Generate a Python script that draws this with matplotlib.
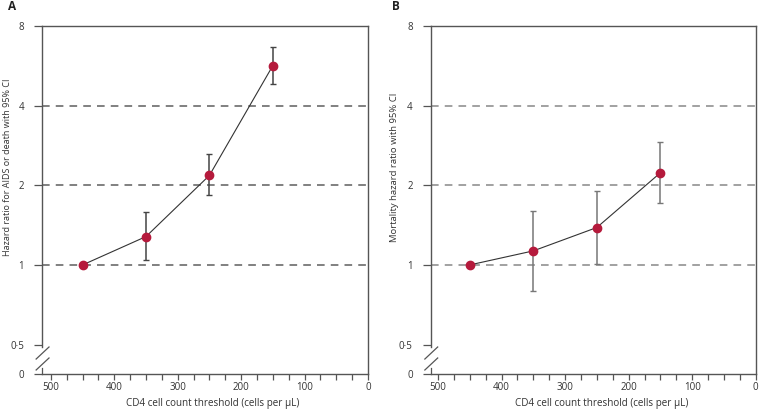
import matplotlib
matplotlib.use("Agg")
import matplotlib.pyplot as plt
from matplotlib.ticker import FixedLocator, FixedFormatter, MultipleLocator

plt.rcParams['font.family'] = ['Open Sans', 'DejaVu Sans']

# Data
thresholds = [450, 350, 250, 150]
hr_a = [1.0, 1.28, 2.18, 5.67]
hr_a_lo = [1.0, 1.045, 1.83, 4.85]
hr_a_hi = [1.0, 1.58, 2.62, 6.65]

hr_b = [1.0, 1.13, 1.385, 2.23]
hr_b_lo = [1.0, 0.80, 1.01, 1.71]
hr_b_hi = [1.0, 1.60, 1.91, 2.91]

ytick_vals = [0.5, 1, 2, 4, 8]
ytick_labels = ["0·5", "1", "2", "4", "8"]
xtick_vals = [500, 400, 300, 200, 100, 0]
ylabels = ["Hazard ratio for AIDS or death with 95% CI",
           "Mortality hazard ratio with 95% CI"]
panel_letters = ["A", "B"]
xlabel = "CD4 cell count threshold (cells per µL)"

YMIN, YMAX = 0.387, 8
W, H = 759, 412
fig = plt.figure(figsize=(W / 100, H / 100), dpi=100)

axes_px = [(42, 368), (430.7, 755.7)]
xlims = [(514, 0), (511.5, 0)]
letter_px = [8, 392]
top_px, bot_px = 26, 374
marker_col = "#B51A3C"
text_col = "#333333"

# target label lengths in pixels (layout only)
ylabel_len = [177, 150]
xlabel_len = 173
ylabel_right = [-0.092, -0.0975]

datasets = [(hr_a, hr_a_lo, hr_a_hi, "#444444", "#5e5e5e"),
            (hr_b, hr_b_lo, hr_b_hi, "#777777", "#888888")]

label_objs = []
for i, ((l, r), (hr, lo, hi, ecol, gcol)) in enumerate(zip(axes_px, datasets)):
    ax = fig.add_axes([l / W, (H - bot_px) / H, (r - l) / W, (bot_px - top_px) / H])
    ax.set_yscale('log', base=2)
    ax.set_ylim(YMIN, YMAX)
    ax.set_xlim(*xlims[i])

    for g in [1, 2, 4]:
        ax.axhline(g, color=gcol, lw=1.1, ls=(0, (5, 4)), zorder=1)

    yerr = [[h - a for h, a in zip(hr, lo)], [b - h for h, b in zip(hr, hi)]]
    ax.errorbar(thresholds, hr, yerr=yerr, fmt='none', ecolor=ecol,
                elinewidth=1.1, capsize=2.5, capthick=1.0, zorder=2)
    ax.plot(thresholds, hr, color="#333333", lw=0.8, zorder=3)
    ax.plot(thresholds, hr, 'o', color=marker_col, ms=6, mec=marker_col, zorder=4)

    ax.yaxis.set_major_locator(FixedLocator([YMIN] + ytick_vals))
    ax.yaxis.set_major_formatter(FixedFormatter(["0"] + ytick_labels))
    ax.yaxis.set_minor_locator(FixedLocator([]))
    ax.xaxis.set_major_locator(FixedLocator(xtick_vals))
    ax.xaxis.set_minor_locator(MultipleLocator(25))

    ax.tick_params(axis='y', which='both', direction='out', length=6, width=0.9,
                   color="#555555", labelcolor=text_col, labelsize=7, pad=7)
    ax.tick_params(axis='x', which='major', direction='out', length=4, width=0.9,
                   color="#555555", labelcolor=text_col, labelsize=7, pad=2)
    ax.tick_params(axis='x', which='minor', direction='out', length=4, width=0.9,
                   color="#555555")

    for s in ['top', 'right', 'bottom', 'left']:
        ax.spines[s].set_color("#555555")
        ax.spines[s].set_linewidth(1.0)
    ax.spines['left'].set_bounds(0.49, YMAX)

    # axis break
    kw = dict(transform=ax.transAxes, clip_on=False, color="#555555", lw=0.9)
    ax.plot([0, 0], [0, 0.017], **kw)
    ax.plot([-0.018, 0.0215], [0.043, 0.0776], **kw)
    ax.plot([-0.018, 0.0215], [0.0115, 0.046], **kw)

    yl = ax.set_ylabel(ylabels[i], fontsize=7.5, color=text_col)
    ax.yaxis.set_label_coords(ylabel_right[i], 0.595)
    xl = ax.set_xlabel(xlabel, fontsize=7.5, color=text_col)
    ax.xaxis.set_label_coords(0.525, -0.068)
    label_objs.append((yl, ylabel_len[i], 'h'))
    label_objs.append((xl, xlabel_len, 'w'))

    fig.text(letter_px[i] / W, 1 - 7 / H, panel_letters[i], fontsize=8.5,
             fontweight='bold', color="#222222", ha='left', va='center')

# fit label lengths
fig.canvas.draw()
renderer = fig.canvas.get_renderer()
for txt, target, dim in label_objs:
    bb = txt.get_window_extent(renderer)
    cur = bb.height if dim == 'h' else bb.width
    txt.set_fontsize(txt.get_fontsize() * target / cur)

fig.savefig("out.png", dpi=100)
